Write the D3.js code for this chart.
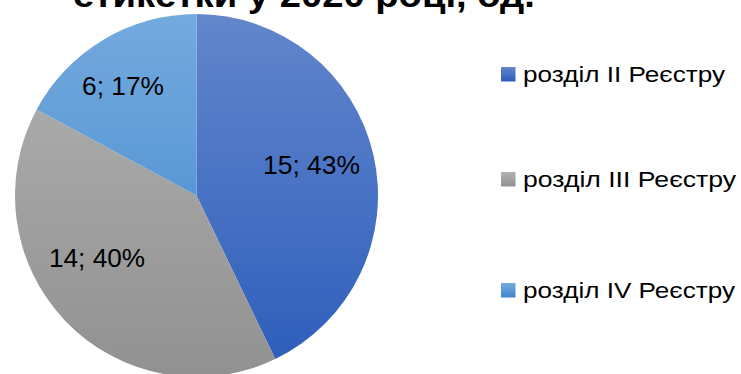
<!DOCTYPE html>
<html><head><meta charset="utf-8">
<script src="https://cdn.jsdelivr.net/npm/d3@7"></script>
<style>body{margin:0;background:#fff;overflow:hidden}svg{display:block}</style>
</head><body>
<svg id="c" width="741" height="374"></svg>
<script>
const categories = ["розділ II Реєстру", "розділ III Реєстру", "розділ IV Реєстру"];
const values = [15, 14, 6];
const percents = ["43%", "40%", "17%"];
const titleText = "етикетки у 2020 році, од.";
const colorsTop = ["#6386cc", "#b2b2b2", "#74aade"];
const colorsBottom = ["#2c5dbb", "#919191", "#3f86cc"];

const svg = d3.select("#c");
const cx = 196.5, cy = 195.5, r = 181.5;
const defs = svg.append("defs");
categories.forEach((c, i) => {
  const g = defs.append("linearGradient").attr("id", "g" + i)
    .attr("gradientUnits", "userSpaceOnUse")
    .attr("x1", 0).attr("x2", 0).attr("y1", -r).attr("y2", r);
  g.append("stop").attr("offset", "0%").attr("stop-color", colorsTop[i]);
  g.append("stop").attr("offset", "100%").attr("stop-color", colorsBottom[i]);
  const gl = defs.append("linearGradient").attr("id", "gl" + i)
    .attr("x1", 0).attr("x2", 0).attr("y1", 0).attr("y2", 1);
  gl.append("stop").attr("offset", "0%").attr("stop-color", colorsTop[i]);
  gl.append("stop").attr("offset", "100%").attr("stop-color", colorsBottom[i]);
});

svg.append("text").attr("x", 304).attr("y", 7).attr("text-anchor", "middle")
  .attr("font-family", "Liberation Sans, Arial, sans-serif").attr("font-weight", "bold")
  .attr("font-size", 35).attr("fill", "#000")
  .attr("textLength", 462).attr("lengthAdjust", "spacingAndGlyphs")
  .text(titleText);

const pie = d3.pie().sort(null).value(d => d)(values);
const arc = d3.arc().innerRadius(0).outerRadius(r);
const gp = svg.append("g").attr("transform", `translate(${cx},${cy})`);
gp.selectAll("path").data(pie).join("path")
  .attr("d", arc)
  .attr("fill", (d, i) => `url(#g${i})`);

const labelPos = [[311.5, 174], [97, 267], [123, 95]];
const labelLen = [97, 96, 82];
svg.selectAll("text.lbl").data(pie).join("text").attr("class", "lbl")
  .attr("x", (d, i) => labelPos[i][0] - labelLen[i] / 2).attr("y", (d, i) => labelPos[i][1])
  .attr("font-family", "Liberation Sans, Arial, sans-serif").attr("font-size", 25)
  .attr("fill", "#000")
  .attr("textLength", (d, i) => labelLen[i]).attr("lengthAdjust", "spacingAndGlyphs")
  .text((d, i) => `${values[i]}; ${percents[i]}`);

const lg = svg.append("g");
const ys = [82, 187, 298];
const legLen = [202, 213, 212];
categories.forEach((c, i) => {
  lg.append("rect").attr("x", 501).attr("y", ys[i] - 15).attr("width", 14.5).attr("height", 14.5)
    .attr("fill", `url(#gl${i})`);
  lg.append("text").attr("x", 523).attr("y", ys[i])
    .attr("font-family", "Liberation Sans, Arial, sans-serif").attr("font-size", 22.5)
    .attr("fill", "#000")
    .attr("textLength", legLen[i]).attr("lengthAdjust", "spacingAndGlyphs")
    .text(c);
});
</script>
</body></html>
